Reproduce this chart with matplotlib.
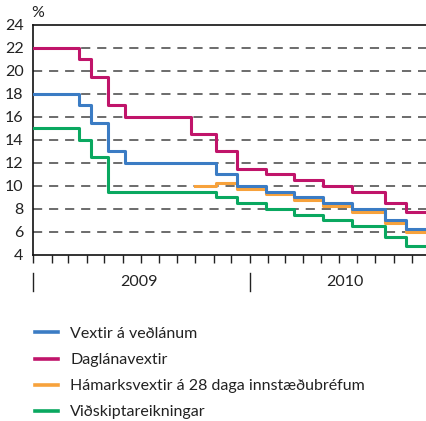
import pandas as pd
import matplotlib.pyplot as plt
import matplotlib.dates as mdates
import matplotlib.transforms as mtransforms

plt.rcParams['font.family'] = ['Lato', 'DejaVu Sans']

# Step dates (rate changes) and values, last entry = end of chart
veð_dates = ['2009-01-01', '2009-03-19', '2009-04-08', '2009-05-07', '2009-06-04',
             '2009-11-05', '2009-12-10', '2010-01-28', '2010-03-17', '2010-05-05',
             '2010-06-23', '2010-08-18', '2010-09-22', '2010-10-31']
veð_vals = [18, 17, 15.5, 13, 12, 11, 10, 9.5, 9, 8.5, 8, 7, 6.25, 6.25]

dag_dates = ['2009-01-01', '2009-03-19', '2009-04-08', '2009-05-07', '2009-06-04',
             '2009-09-24', '2009-11-05', '2009-12-10', '2010-01-28', '2010-03-17',
             '2010-05-05', '2010-06-23', '2010-08-18', '2010-09-22', '2010-10-31']
dag_vals = [22, 21, 19.5, 17, 16, 14.5, 13, 11.5, 11, 10.5, 10, 9.5, 8.5, 7.75, 7.75]

ham_dates = ['2009-10-01', '2009-11-05', '2009-12-10', '2010-01-28', '2010-03-17',
             '2010-05-05', '2010-06-23', '2010-08-18', '2010-09-22', '2010-10-31']
ham_vals = [10, 10.25, 9.75, 9.25, 8.75, 8.25, 7.75, 6.75, 6.0, 6.0]

vid_dates = ['2009-01-01', '2009-03-19', '2009-04-08', '2009-05-07', '2009-11-05',
             '2009-12-10', '2010-01-28', '2010-03-17', '2010-05-05', '2010-06-23',
             '2010-08-18', '2010-09-22', '2010-10-31']
vid_vals = [15, 14, 12.5, 9.5, 9, 8.5, 8, 7.5, 7, 6.5, 5.5, 4.75, 4.75]

labels = ['Vextir á veðlánum', 'Daglánavextir',
          'Hámarksvextir á 28 daga innstæðubréfum', 'Viðskiptareikningar']
colors = ['#3b7cc4', '#c0146a', '#f7a23c', '#0aa860']

year_starts = ['2009-01-01', '2010-01-01']
year_labels = ['2009', '2010']
year_label_pos = ['2009-06-28', '2010-06-10']

fig = plt.figure(figsize=(4.27, 4.21), dpi=100)
ax = fig.add_axes([0.078, 0.395, 0.922, 0.5457])

for y in range(6, 24, 2):
    ax.axhline(y, color='#444444', lw=1.1, dashes=(6, 4.5), zorder=1)

lw = 2.2
l_ham, = ax.plot(pd.to_datetime(ham_dates), ham_vals, drawstyle='steps-post',
                 color=colors[2], lw=lw, zorder=2)
l_veð, = ax.plot(pd.to_datetime(veð_dates), veð_vals, drawstyle='steps-post',
                 color=colors[0], lw=lw, zorder=3)
l_dag, = ax.plot(pd.to_datetime(dag_dates), dag_vals, drawstyle='steps-post',
                 color=colors[1], lw=lw, zorder=3)
l_vid, = ax.plot(pd.to_datetime(vid_dates), vid_vals, drawstyle='steps-post',
                 color=colors[3], lw=lw, zorder=3)

ax.set_ylim(4, 24)
ax.set_yticks(range(4, 25, 2))
ax.set_xlim(pd.Timestamp('2009-01-01'), pd.Timestamp('2010-10-27'))
ax.xaxis.set_major_locator(mdates.MonthLocator())
ax.xaxis.set_major_formatter(plt.NullFormatter())
ax.tick_params(axis='x', direction='out', length=6, width=1, color='#222222')
ax.tick_params(axis='y', length=0, labelsize=11.5, pad=7, labelcolor='#222222')
ax.spines['right'].set_visible(False)
for s in ['top', 'left', 'bottom']:
    ax.spines[s].set_linewidth(1.2)
    ax.spines[s].set_color('#111111')

ax.annotate('%', xy=(0, 1), xycoords='axes fraction', xytext=(3, 6),
            textcoords='offset points', ha='center', va='baseline', fontsize=11.5,
            color='#222222')

# year separators and labels under the axis
trans = mtransforms.blended_transform_factory(ax.transData, ax.transAxes)
for d in year_starts:
    ax.plot([pd.Timestamp(d)] * 2, [-0.078, -0.16], transform=trans,
            color='#222222', lw=1, clip_on=False)
for lab, d in zip(year_labels, year_label_pos):
    ax.text(pd.Timestamp(d), -0.118, lab, transform=trans, ha='center',
            va='center', fontsize=11.5, color='#222222')

leg = fig.legend([l_veð, l_dag, l_ham, l_vid], labels, loc='upper left',
                 bbox_to_anchor=(0.067, 0.239), borderaxespad=0, frameon=False,
                 fontsize=11.5, handlelength=1.45, handletextpad=0.75,
                 labelspacing=0.75, labelcolor='#222222')
for h in leg.get_lines():
    h.set_linewidth(2.6)

fig.savefig('out.png', dpi=100)
